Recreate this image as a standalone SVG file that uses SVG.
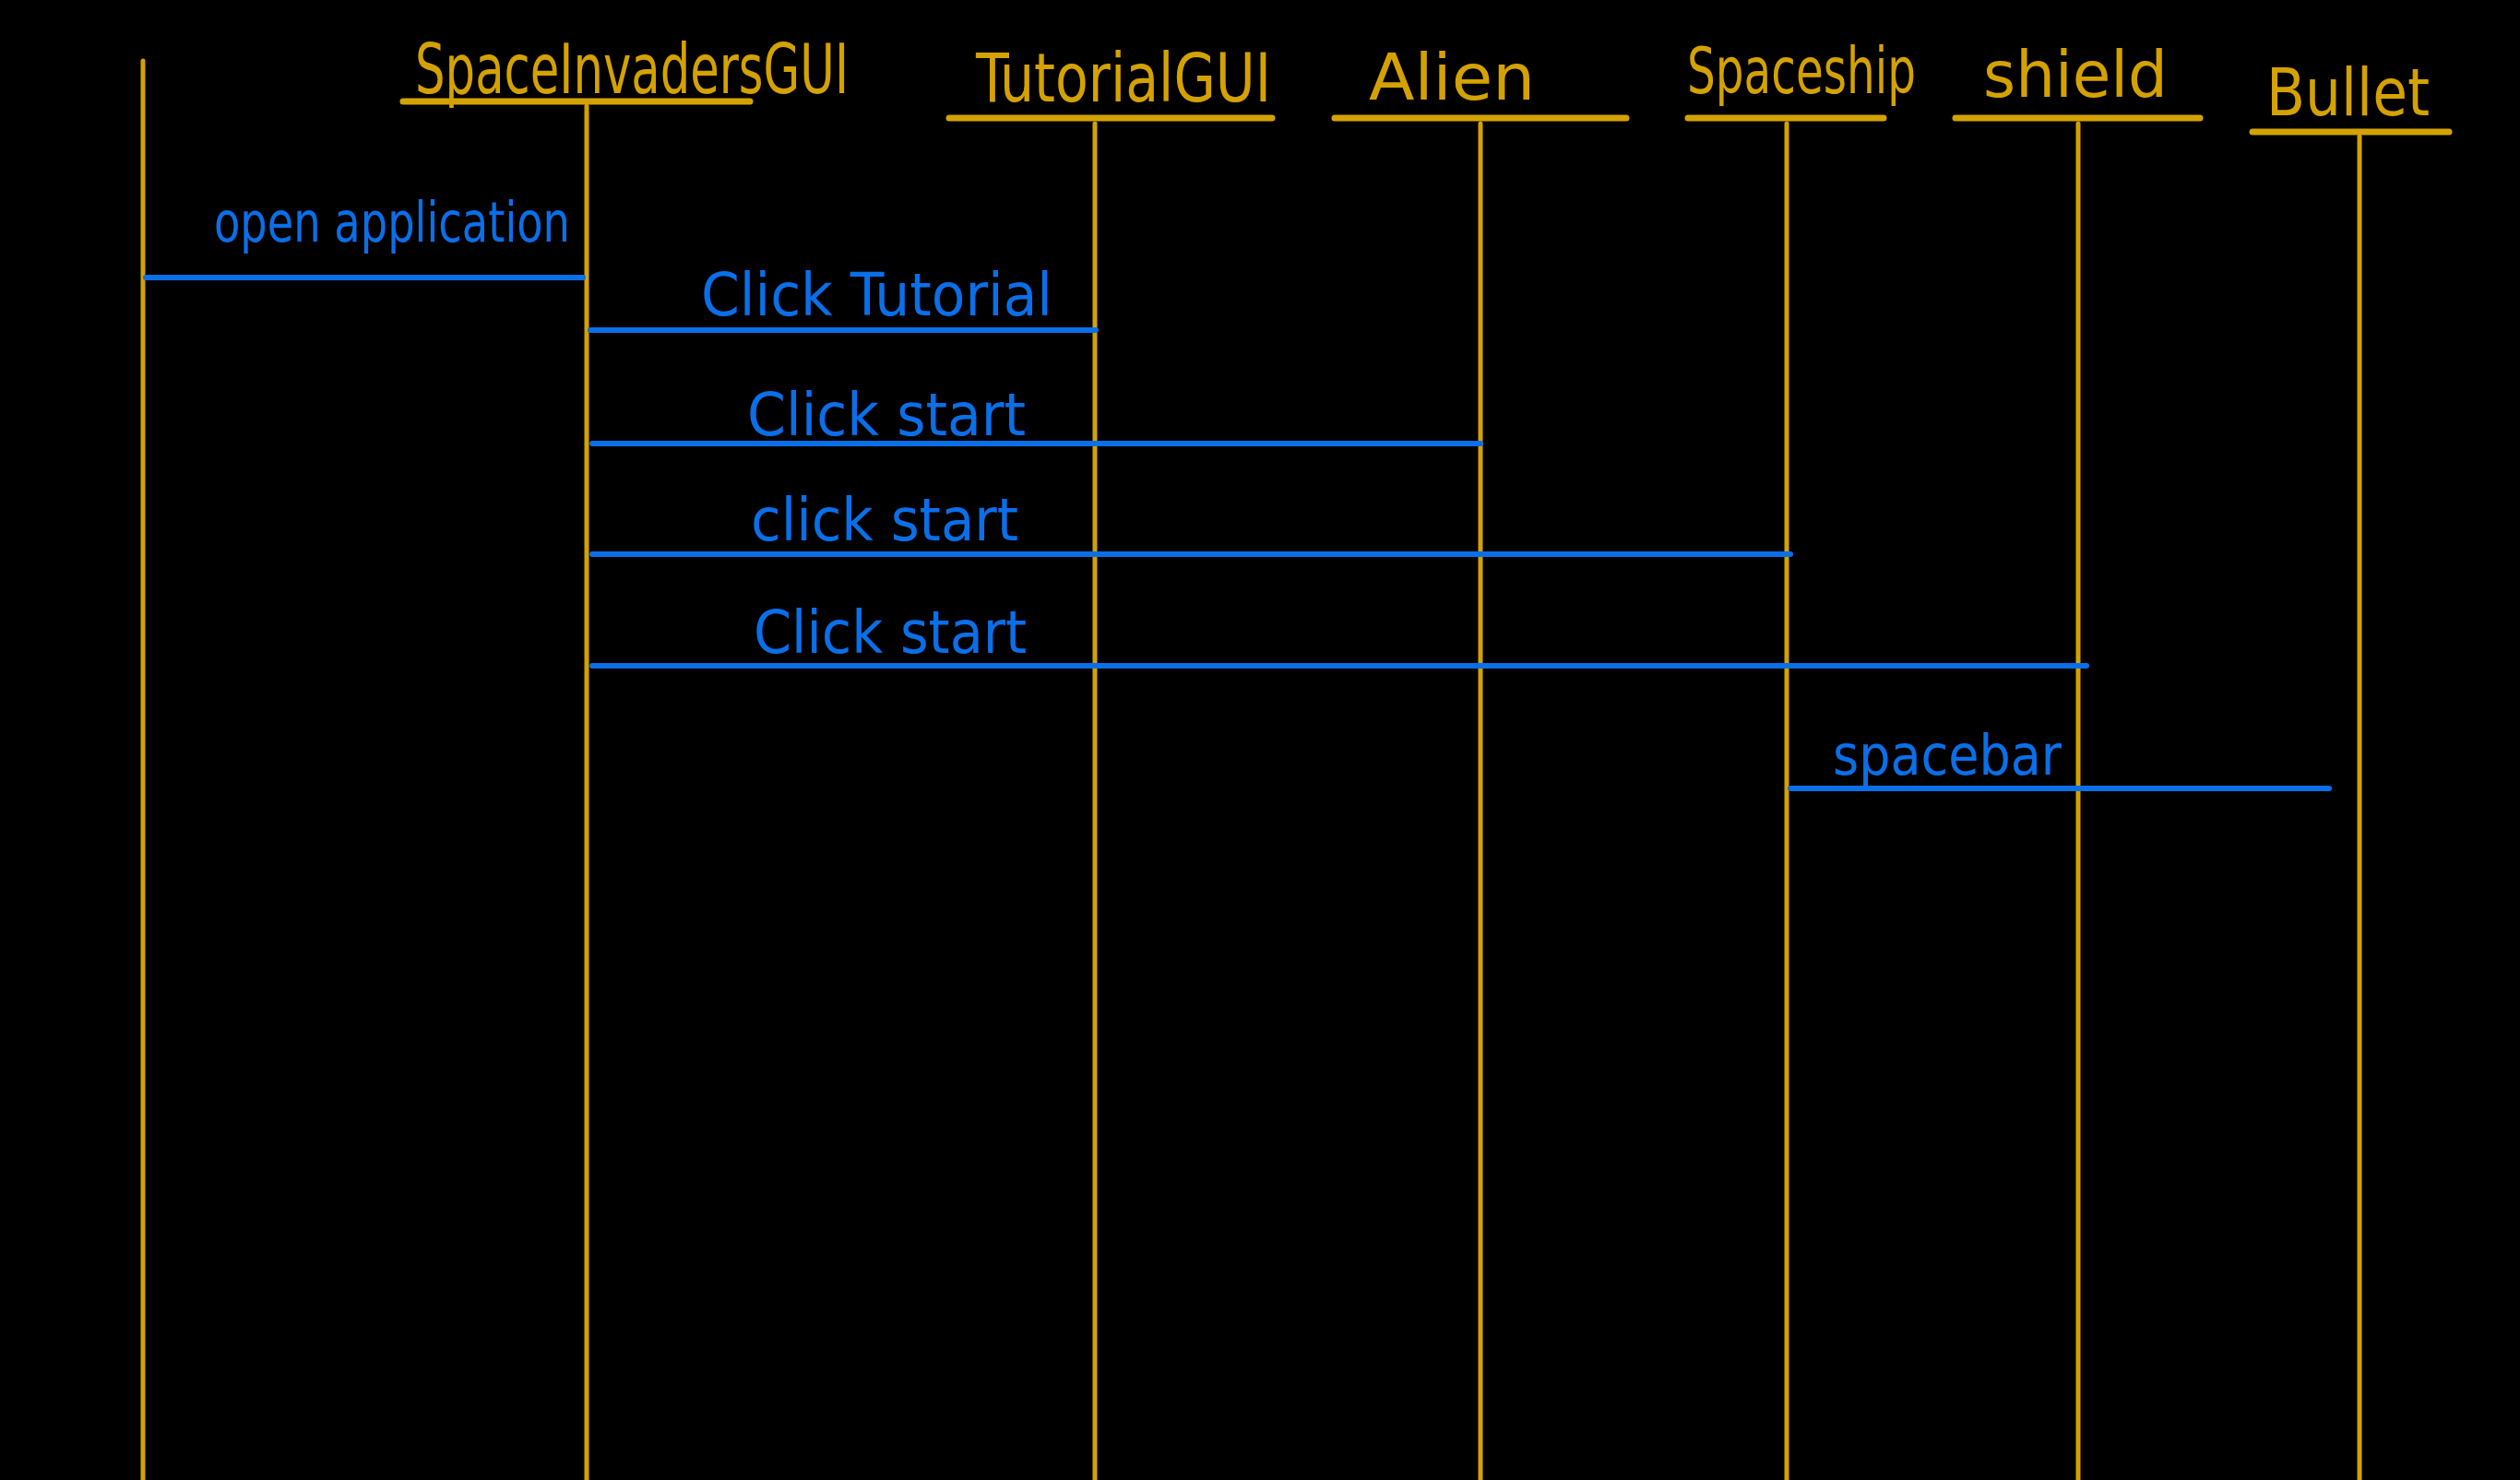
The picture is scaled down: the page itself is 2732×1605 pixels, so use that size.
<svg xmlns="http://www.w3.org/2000/svg" width="2732" height="1605" viewBox="0 0 2732 1605">
<style>
.life{stroke:#D4A200;stroke-width:5;fill:none;stroke-linecap:round}
.head{stroke:#D4A200;stroke-width:7;fill:none;stroke-linecap:round}
.msg{stroke:#0A6FE8;stroke-width:6;fill:none;stroke-linecap:round}
.ht{fill:#D4A200;font-family:"DejaVu Sans Condensed","DejaVu Sans",sans-serif}
.mt{fill:#0A6FE8;font-family:"DejaVu Sans Condensed","DejaVu Sans",sans-serif}
</style>
<rect x="0" y="0" width="2732" height="1605" fill="#000"/>
<g id="actor">
<line class="life" x1="155" y1="66" x2="155" y2="1605"/>
</g>
<g id="SpaceInvadersGUI">
<text class="ht" transform="translate(450,101) scale(1,1.5)" x="0" y="0" style="font-size:50px" textLength="470" lengthAdjust="spacingAndGlyphs">SpaceInvadersGUI</text>
<line class="head" x1="437" y1="110" x2="813" y2="110"/>
<line class="life" x1="636" y1="115" x2="636" y2="1605"/>
</g>
<g id="TutorialGUI">
<text class="ht" transform="translate(1058,110) scale(1,1.45)" x="0" y="0" style="font-size:50px" textLength="320" lengthAdjust="spacingAndGlyphs">TutorialGUI</text>
<line class="head" x1="1029" y1="128" x2="1379" y2="128"/>
<line class="life" x1="1187" y1="134" x2="1187" y2="1605"/>
</g>
<g id="Alien">
<text class="ht" x="1484" y="108" style="font-size:70px" textLength="180" lengthAdjust="spacingAndGlyphs">Alien</text>
<line class="head" x1="1447" y1="128" x2="1763" y2="128"/>
<line class="life" x1="1605" y1="134" x2="1605" y2="1605"/>
</g>
<g id="Spaceship">
<text class="ht" transform="translate(1829,101) scale(1,1.45)" x="0" y="0" style="font-size:48px" textLength="248" lengthAdjust="spacingAndGlyphs">Spaceship</text>
<line class="head" x1="1830" y1="128" x2="2042" y2="128"/>
<line class="life" x1="1937" y1="134" x2="1937" y2="1605"/>
</g>
<g id="Shield">
<text class="ht" x="2150" y="105" style="font-size:70px" textLength="200" lengthAdjust="spacingAndGlyphs">shield</text>
<line class="head" x1="2120" y1="128" x2="2385" y2="128"/>
<line class="life" x1="2253" y1="134" x2="2253" y2="1605"/>
</g>
<g id="Bullet">
<text class="ht" x="2457" y="125" style="font-size:72px" textLength="177" lengthAdjust="spacingAndGlyphs">Bullet</text>
<line class="head" x1="2442" y1="143" x2="2655" y2="143"/>
<line class="life" x1="2558" y1="148" x2="2558" y2="1605"/>
</g>
<g id="connectors">
<line class="msg" x1="158" y1="301" x2="632" y2="301"/>
<text class="mt" x="232" y="262" style="font-size:60px" textLength="386" lengthAdjust="spacingAndGlyphs">open application</text>
<line class="msg" x1="640" y1="358" x2="1188" y2="358"/>
<text class="mt" x="760" y="342" style="font-size:64px" textLength="381" lengthAdjust="spacingAndGlyphs">Click  Tutorial</text>
<line class="msg" x1="642" y1="481" x2="1605" y2="481"/>
<text class="mt" x="810" y="472" style="font-size:64px" textLength="302" lengthAdjust="spacingAndGlyphs">Click  start</text>
<line class="msg" x1="642" y1="601" x2="1941" y2="601"/>
<text class="mt" x="814" y="586" style="font-size:64px" textLength="290" lengthAdjust="spacingAndGlyphs">click  start</text>
<line class="msg" x1="642" y1="722" x2="2262" y2="722"/>
<text class="mt" x="817" y="708" style="font-size:64px" textLength="296" lengthAdjust="spacingAndGlyphs">Click  start</text>
<line class="msg" x1="1941" y1="855" x2="2525" y2="855"/>
<text class="mt" x="1987" y="840" style="font-size:60px" textLength="248" lengthAdjust="spacingAndGlyphs">spacebar</text>
</g>
</svg>
